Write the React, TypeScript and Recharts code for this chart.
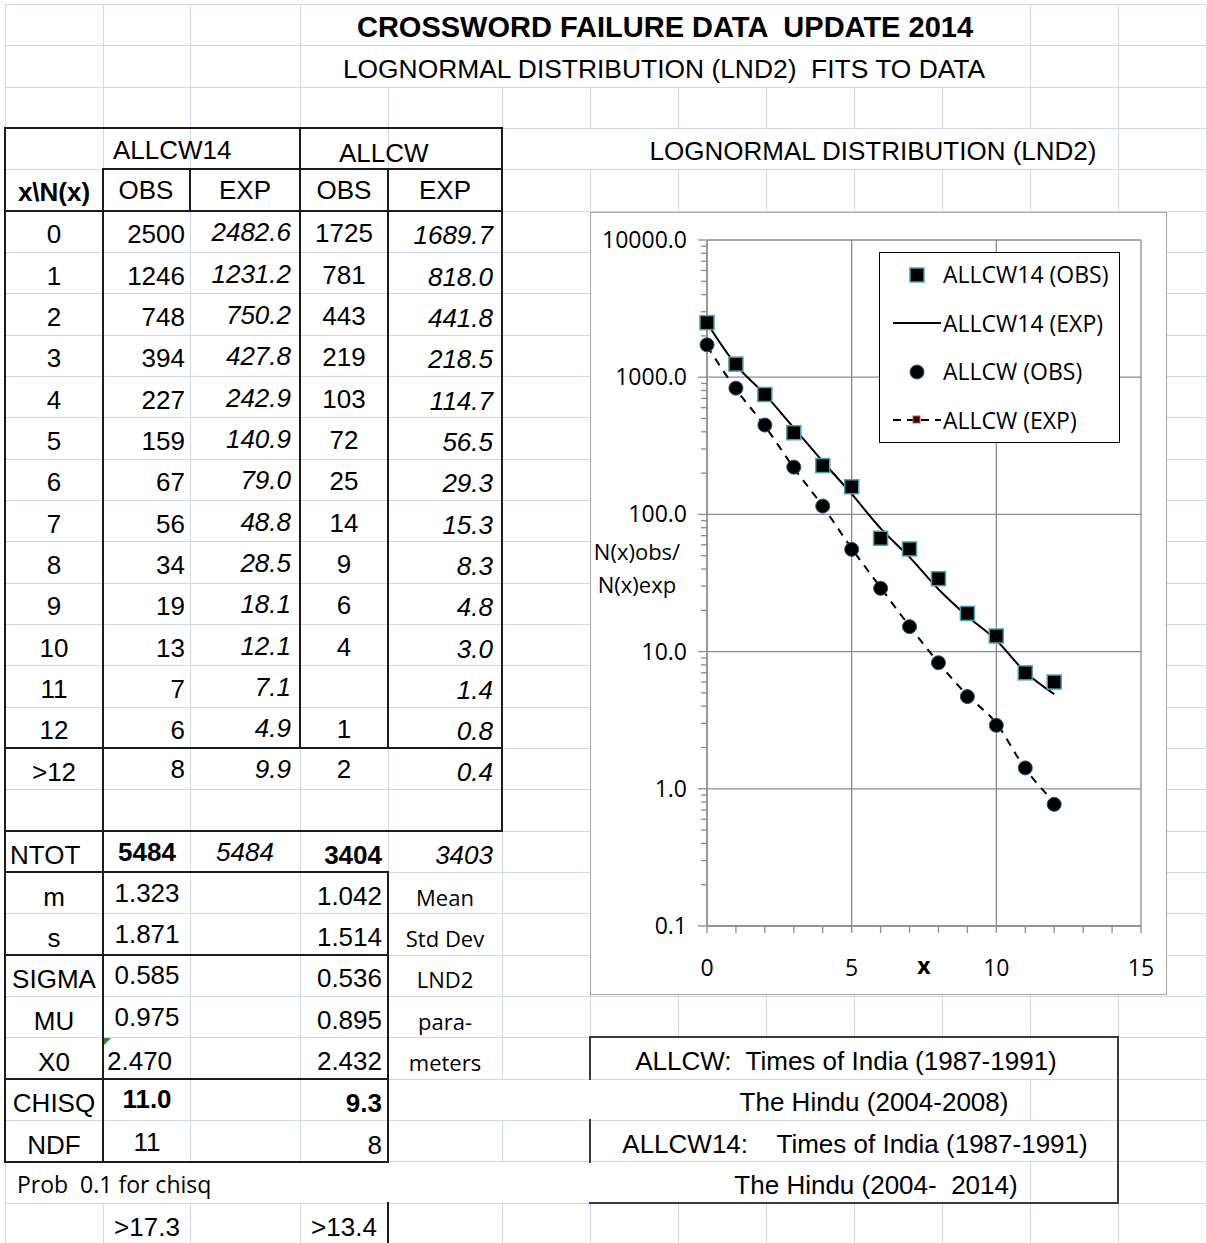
import React from 'react'
import { ComposedChart, Line, XAxis, YAxis, CartesianGrid, Legend } from 'recharts'

// ---- table data (as typed in the sheet) ----
const X_VALUES = [0, 1, 2, 3, 4, 5, 6, 7, 8, 9, 10, 11, 12]
const ALLCW14_OBS = [2500, 1246, 748, 394, 227, 159, 67, 56, 34, 19, 13, 7, 6]
const ALLCW14_EXP = [2482.6, 1231.2, 750.2, 427.8, 242.9, 140.9, 79.0, 48.8, 28.5, 18.1, 12.1, 7.1, 4.9]
const ALLCW_OBS: (number | null)[] = [1725, 781, 443, 219, 103, 72, 25, 14, 9, 6, 4, null, 1]
const ALLCW_EXP = [1689.7, 818.0, 441.8, 218.5, 114.7, 56.5, 29.3, 15.3, 8.3, 4.8, 3.0, 1.4, 0.8]
// circles as they sit on the plot
const ALLCW_OBS_PLOTTED = [1722, 832, 448, 221, 115, 55.6, 28.9, 15.2, 8.3, 4.7, 2.9, 1.42, 0.77]

const TAIL_LABEL = '>12'
const TAIL_VALUES = ['8', '9.9', '2', '0.4']
const NTOT = ['5484', '5484', '3404', '3403']
const STAT_LABELS = ['m', 's', 'SIGMA', 'MU', 'X0']
const STAT_ALLCW14 = ['1.323', '1.871', '0.585', '0.975', '2.470']
const STAT_ALLCW = ['1.042', '1.514', '0.536', '0.895', '2.432']
const STAT_NOTES = ['Mean', 'Std Dev', 'LND2', 'para-', 'meters']
const CHISQ = ['11.0', '9.3']
const NDF = ['11', '8']
const PROB_LIMITS = ['>17.3', '>13.4']
const SOURCES = [
  'ALLCW:  Times of India (1987-1991)',
  'The Hindu (2004-2008)',
  'ALLCW14:    Times of India (1987-1991)',
  'The Hindu (2004-  2014)',
]
const SOURCE_X = [846, 874, 855, 876]

const LEGEND_ITEMS = ['ALLCW14 (OBS)', 'ALLCW14 (EXP)', 'ALLCW (OBS)', 'ALLCW (EXP)']

// ---- axes ----
const Y_MAJOR = [0.1, 1, 10, 100, 1000, 10000]
const Y_MINOR_MULT = [2, 3, 4, 5, 6, 7, 8, 9]
const Y_TICKS = Y_MAJOR.flatMap((d, i) => (i < Y_MAJOR.length - 1 ? [d, ...Y_MINOR_MULT.map(m => d * m)] : [d]))
const X_TICKS = [0, 1, 2, 3, 4, 5, 6, 7, 8, 9, 10, 11, 12, 13, 14, 15]
const X_MAJOR = [0, 5, 10, 15]

const chartData = X_VALUES.map((x, i) => ({
  x,
  obs14: ALLCW14_OBS[i],
  exp14: ALLCW14_EXP[i],
  obs: ALLCW_OBS_PLOTTED[i],
  exp: ALLCW_EXP[i],
}))

// ---- sheet geometry ----
const COLS = [5, 103, 190, 300, 388, 502, 590, 678, 766, 854, 942, 1030, 1118, 1206]
const ROW_H = 41.33
const N_ROWS = 30
const rowTop = (r: number) => 4 + r * ROW_H
const rowMid = (r: number) => rowTop(r) + ROW_H / 2

const SHEET_FONT = '"Liberation Sans", Arial, sans-serif'
const CAL_FONT = '"Open Sans", "Noto Sans", sans-serif'
const GRID = '#d3d8e6'
const INK = '#1c1c1c'
const AXIS = '#8c8c8c'

function hiddenV(r: number, x: number) {
  if ((r === 0 || r === 1) && x > 300 && x < 1030) return true
  if (r === 3 && x > 502 && x < 1118) return true
  if ((r === 25 || r === 27) && x > 590 && x < 1118) return true
  if (r === 26 && x > 388 && x < 1030) return true
  if (r === 28 && x > 5 && x < 1030) return true
  return false
}

// dark borders: [x1, y1, x2, y2]
const BORDERS: number[][] = [
  [5, 128, 502, 128],
  [103, 169, 502, 169],
  [5, 211, 502, 211],
  [5, 748, 502, 748],
  [5, 831, 502, 831],
  [5, 872, 388, 872],
  [5, 955, 388, 955],
  [5, 1079, 388, 1079],
  [5, 1162, 388, 1162],
  [5, 128, 5, 1162],
  [103, 169, 103, 1162],
  [190, 169, 190, 211],
  [300, 128, 300, 748],
  [388, 169, 388, 748],
  [502, 128, 502, 831],
  [388, 872, 388, 1162],
  [388, 1203, 388, 1243],
]
const BOX_BORDERS: number[][] = [
  [590, 1037, 1118, 1037],
  [590, 1203, 1118, 1203],
  [1118, 1037, 1118, 1203],
  [590, 1037, 590, 1079],
  [590, 1120, 590, 1162],
]

function Seg({ b, color, w }: { b: number[]; color: string; w: number }) {
  const [x1, y1, x2, y2] = b
  const horiz = y1 === y2
  return (
    <div
      style={{
        position: 'absolute',
        left: x1 - w / 2,
        top: y1 - w / 2,
        width: horiz ? x2 - x1 + w : w,
        height: horiz ? w : y2 - y1 + w,
        background: color,
      }}
    />
  )
}

function Txt({ x, y, a = 'middle', s = {}, children }: any) {
  const tx = a === 'start' ? '0' : a === 'end' ? '-100%' : '-50%'
  return (
    <div
      style={{
        position: 'absolute',
        left: x,
        top: y,
        transform: `translate(${tx}, -50%)`,
        whiteSpace: 'pre',
        lineHeight: 1,
        fontSize: 26,
        fontFamily: SHEET_FONT,
        color: '#000',
        ...s,
      }}
    >
      {children}
    </div>
  )
}

const isMajor = (v: number) => Math.abs(Math.log10(v) - Math.round(Math.log10(v))) < 1e-9

function YTick({ x, y, payload }: any) {
  const v = payload.value
  const major = isMajor(v)
  return (
    <g>
      <line x1={x - (major ? 9 : 6)} x2={x} y1={y} y2={y} stroke={AXIS} strokeWidth={1.3} />
      {major && (
        <text x={x - 20} y={y} dy={8} textAnchor="end" fill="#000" fontSize={23} fontFamily={CAL_FONT}>
          {v.toFixed(1)}
        </text>
      )}
    </g>
  )
}

function XTick({ x, y, payload }: any) {
  const v = payload.value
  return (
    <g>
      <line x1={x} x2={x} y1={y} y2={y + 7} stroke={AXIS} strokeWidth={1.3} />
      {X_MAJOR.includes(v) && (
        <text x={x} y={y + 50} textAnchor="middle" fill="#000" fontSize={23} fontFamily={CAL_FONT}>
          {v}
        </text>
      )}
    </g>
  )
}

function renderYLabel(props: any) {
  const vb = props && props.viewBox ? props.viewBox : { x: 16, y: 27, width: 100, height: 687 }
  const cx = vb.x + 30
  const cy = vb.y + vb.height / 2
  return (
    <g>
      <text x={cx} y={cy - 23} textAnchor="middle" fill="#000" fontSize={22} fontFamily={CAL_FONT}>
        N(x)obs/
      </text>
      <text x={cx} y={cy + 10} textAnchor="middle" fill="#000" fontSize={22} fontFamily={CAL_FONT}>
        N(x)exp
      </text>
    </g>
  )
}

function SquareDot(props: any) {
  const { cx, cy, index } = props
  if (cx == null || cy == null) return <g key={index} />
  return <rect key={index} x={cx - 7} y={cy - 7} width={14} height={14} fill="#000" stroke="#4aa3b4" strokeWidth={1.5} />
}

function CircleDot(props: any) {
  const { cx, cy, index } = props
  if (cx == null || cy == null) return <g key={index} />
  return <circle key={index} cx={cx} cy={cy} r={7} fill="#000" stroke="#2d4e78" strokeWidth={1} />
}

function LegendBox() {
  return (
    <div
      style={{
        width: 241,
        height: 191,
        border: '1.5px solid #000',
        background: '#fff',
        boxSizing: 'border-box',
        position: 'relative',
        fontFamily: CAL_FONT,
        fontSize: 23,
        color: '#000',
      }}
    >
      {LEGEND_ITEMS.map((name, i) => (
        <div
          key={name}
          style={{ position: 'absolute', left: 0, top: 22 + i * 48.5 - 16, height: 32, display: 'flex', alignItems: 'center', whiteSpace: 'pre' }}
        >
          <svg width={63} height={32} style={{ display: 'block' }}>
            {i === 0 && <rect x={30} y={9} width={14} height={14} fill="#000" stroke="#4aa3b4" strokeWidth={1.5} />}
            {i === 1 && <line x1={13} x2={61} y1={16} y2={16} stroke="#000" strokeWidth={2} />}
            {i === 2 && <circle cx={37} cy={16} r={7} fill="#000" stroke="#2d4e78" strokeWidth={1} />}
            {i === 3 && (
              <g>
                <line x1={13} x2={61} y1={16} y2={16} stroke="#000" strokeWidth={2} strokeDasharray="8 6" />
                <rect x={33} y={12} width={7} height={7} fill="#2a0a0a" stroke="#c0504d" strokeWidth={1} />
              </g>
            )}
          </svg>
          <span style={{ lineHeight: 1 }}>{name}</span>
        </div>
      ))}
    </div>
  )
}

export default function App() {
  const vLines: React.ReactNode[] = []
  for (let r = 0; r < N_ROWS; r++) {
    for (const x of COLS) {
      if (hiddenV(r, x)) continue
      vLines.push(
        <div key={`v${r}-${x}`} style={{ position: 'absolute', left: x, top: rowTop(r), width: 1, height: ROW_H + 0.5, background: GRID }} />
      )
    }
  }
  const hLines: React.ReactNode[] = []
  for (let r = 0; r <= N_ROWS; r++) {
    hLines.push(
      <div key={`h${r}`} style={{ position: 'absolute', left: 5, top: Math.round(rowTop(r)), width: 1202, height: 1, background: GRID }} />
    )
  }

  const it = { fontStyle: 'italic' }
  const bold = { fontWeight: 'bold' }
  const cal = { fontFamily: CAL_FONT, fontSize: 22 }

  return (
    <div style={{ position: 'absolute', left: 0, top: 0, width: 1207, height: 1243, background: '#fff', overflow: 'hidden' }}>
      {hLines}
      {vLines}
      {BORDERS.map((b, i) => (
        <Seg key={`b${i}`} b={b} color={INK} w={2} />
      ))}
      {BOX_BORDERS.map((b, i) => (
        <Seg key={`bb${i}`} b={b} color="#3a3a3a" w={1.6} />
      ))}

      {/* titles */}
      <Txt x={665} y={rowMid(0) + 2} s={{ ...bold, fontSize: 29 }}>CROSSWORD FAILURE DATA  UPDATE 2014</Txt>
      <Txt x={664} y={rowMid(1) + 3} s={{ fontSize: 26.4 }}>LOGNORMAL DISTRIBUTION (LND2)  FITS TO DATA</Txt>
      <Txt x={873} y={rowMid(3) + 2}>LOGNORMAL DISTRIBUTION (LND2)</Txt>

      {/* table header */}
      <Txt x={113} y={rowMid(3) + 1} a="start">ALLCW14</Txt>
      <Txt x={339} y={rowMid(3) + 4} a="start">ALLCW</Txt>
      <Txt x={54} y={rowMid(4) + 2} s={bold}>x\N(x)</Txt>
      <Txt x={146} y={rowMid(4)}>OBS</Txt>
      <Txt x={245} y={rowMid(4)}>EXP</Txt>
      <Txt x={344} y={rowMid(4)}>OBS</Txt>
      <Txt x={445} y={rowMid(4)}>EXP</Txt>

      {/* data rows */}
      {X_VALUES.map((x, i) => {
        const y = rowMid(5 + i) + 3
        return (
          <React.Fragment key={`row${x}`}>
            <Txt x={54} y={y}>{x}</Txt>
            <Txt x={185} y={y} a="end">{ALLCW14_OBS[i]}</Txt>
            <Txt x={291} y={y - 2} a="end" s={it}>{ALLCW14_EXP[i].toFixed(1)}</Txt>
            {ALLCW_OBS[i] != null && <Txt x={344} y={y - 1}>{ALLCW_OBS[i]}</Txt>}
            <Txt x={493} y={y + 1} a="end" s={it}>{ALLCW_EXP[i].toFixed(1)}</Txt>
          </React.Fragment>
        )
      })}
      <Txt x={54} y={rowMid(18) + 3}>{TAIL_LABEL}</Txt>
      <Txt x={185} y={rowMid(18)} a="end">{TAIL_VALUES[0]}</Txt>
      <Txt x={291} y={rowMid(18)} a="end" s={it}>{TAIL_VALUES[1]}</Txt>
      <Txt x={344} y={rowMid(18)}>{TAIL_VALUES[2]}</Txt>
      <Txt x={493} y={rowMid(18) + 3} a="end" s={it}>{TAIL_VALUES[3]}</Txt>

      {/* totals and parameters */}
      <Txt x={10} y={rowMid(20) + 4} a="start">NTOT</Txt>
      <Txt x={147} y={rowMid(20) + 1} s={bold}>{NTOT[0]}</Txt>
      <Txt x={245} y={rowMid(20) + 1} s={it}>{NTOT[1]}</Txt>
      <Txt x={382} y={rowMid(20) + 4} a="end" s={bold}>{NTOT[2]}</Txt>
      <Txt x={493} y={rowMid(20) + 4} a="end" s={it}>{NTOT[3]}</Txt>

      {STAT_LABELS.map((lab, i) => {
        const r = 21 + i
        const y = rowMid(r) + 3
        return (
          <React.Fragment key={lab}>
            <Txt x={54} y={y + 1}>{lab}</Txt>
            {lab === 'X0' ? (
              <Txt x={107} y={y} a="start">{STAT_ALLCW14[i]}</Txt>
            ) : (
              <Txt x={147} y={y - 3}>{STAT_ALLCW14[i]}</Txt>
            )}
            <Txt x={382} y={y} a="end">{STAT_ALLCW[i]}</Txt>
            <Txt x={445} y={y + 1} s={cal}>{STAT_NOTES[i]}</Txt>
          </React.Fragment>
        )
      })}
      {/* little green marker in the X0 cell */}
      <svg style={{ position: 'absolute', left: 104, top: rowTop(25) + 1 }} width={8} height={8}>
        <polygon points="0,0 7,0 0,7" fill="#1f8a1f" />
      </svg>

      <Txt x={54} y={rowMid(26) + 4}>CHISQ</Txt>
      <Txt x={147} y={rowMid(26)} s={bold}>{CHISQ[0]}</Txt>
      <Txt x={382} y={rowMid(26) + 4} a="end" s={bold}>{CHISQ[1]}</Txt>
      <Txt x={54} y={rowMid(27) + 4}>NDF</Txt>
      <Txt x={147} y={rowMid(27) + 1}>{NDF[0]}</Txt>
      <Txt x={382} y={rowMid(27) + 4} a="end">{NDF[1]}</Txt>
      <Txt x={17} y={rowMid(28) + 2} a="start" s={{ fontFamily: CAL_FONT, fontSize: 23 }}>Prob  0.1 for chisq</Txt>
      <Txt x={147} y={rowMid(29) + 4}>{PROB_LIMITS[0]}</Txt>
      <Txt x={344} y={rowMid(29) + 4}>{PROB_LIMITS[1]}</Txt>

      {/* sources box */}
      {SOURCES.map((s, i) => (
        <Txt key={s} x={SOURCE_X[i]} y={rowMid(25 + i) + 3}>{s}</Txt>
      ))}

      {/* chart */}
      <div
        style={{
          position: 'absolute',
          left: 590,
          top: 212,
          width: 577,
          height: 783,
          border: '1.5px solid #a6a6a6',
          boxSizing: 'border-box',
          background: '#fff',
        }}
      >
        <ComposedChart width={574} height={780} data={chartData} margin={{ top: 27, right: 24, bottom: 7, left: 16 }}>
          <CartesianGrid horizontalValues={Y_MAJOR} verticalValues={X_MAJOR} stroke={AXIS} strokeWidth={1.3} />
          <XAxis
            dataKey="x"
            type="number"
            domain={[0, 15]}
            ticks={X_TICKS}
            interval={0}
            height={60}
            tickSize={0}
            tickMargin={0}
            tickLine={false}
            tick={<XTick />}
            axisLine={{ stroke: AXIS, strokeWidth: 1.3 }}
            label={{ value: 'x', position: 'insideBottom', offset: 12, fill: '#000', fontWeight: 'bold', fontSize: 23, fontFamily: CAL_FONT }}
          />
          <YAxis
            type="number"
            scale="log"
            domain={[0.1, 10000]}
            allowDataOverflow
            ticks={Y_TICKS}
            interval={0}
            width={100}
            tickSize={0}
            tickMargin={0}
            tickLine={false}
            tick={<YTick />}
            axisLine={{ stroke: AXIS, strokeWidth: 1.3 }}
            label={renderYLabel}
          />
          <Legend
            layout="vertical"
            align="center"
            verticalAlign="middle"
            content={() => <LegendBox />}
            wrapperStyle={{ position: 'absolute', left: 288, top: 38.5, width: 241, height: 191 }}
          />
          <Line dataKey="exp14" type="monotone" stroke="#000" strokeWidth={2} dot={false} activeDot={false} isAnimationActive={false} />
          <Line dataKey="exp" type="monotone" stroke="#000" strokeWidth={2} strokeDasharray="8 7" dot={false} activeDot={false} isAnimationActive={false} />
          <Line dataKey="obs14" stroke="none" dot={SquareDot} activeDot={false} isAnimationActive={false} />
          <Line dataKey="obs" stroke="none" dot={CircleDot} activeDot={false} isAnimationActive={false} />
        </ComposedChart>
      </div>
    </div>
  )
}
